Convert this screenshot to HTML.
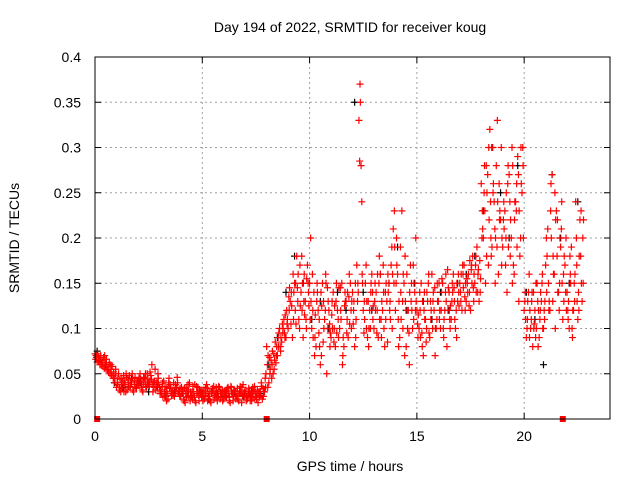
<!DOCTYPE html>
<html><head><meta charset="utf-8"><style>
body{margin:0;background:#fff;}
svg{display:block;font-family:"Liberation Sans",sans-serif;}
</style></head><body>
<svg id="chart" width="640" height="480" viewBox="0 0 640 480">
<rect width="640" height="480" fill="#fff"/>
<text x="350" y="32" font-size="14" text-anchor="middle">Day 194 of 2022, SRMTID for receiver koug</text>
<text transform="translate(19,238) rotate(-90)" font-size="14" text-anchor="middle">SRMTID / TECUs</text>
<text x="350" y="471" font-size="14" text-anchor="middle">GPS time / hours</text>
<g id="grid"></g><g id="ticks"></g><g id="marks"></g>
<rect x="95" y="57" width="515" height="362" fill="none" stroke="#000" stroke-width="1"/>
</svg>
<script>
const xTicks=[0,5,10,15,20];
const yTicks=[0,0.05,0.1,0.15,0.2,0.25,0.3,0.35,0.4];
const yTickLabels=["0","0.05","0.1","0.15","0.2","0.25","0.3","0.35","0.4"];
const redA=[.070,.068,.065,.062,.070,.058,.060,.055,.045,.050,
.040,.035,.045,.030,.050,.040,.035,.045,.038,.042,
.045,.035,.040,.050,.038,.042,.060,.035,.040,.045,
.030,.040,.025,.035,.045,.030,.028,.038,.040,.025,
.030,.020,.035,.025,.030,.022,.038,.028,.020,.032,
.025,.035,.020,.030,.028,.022,.035,.025,.030,.020,
.028,.032,.020,.035,.025,.030,.022,.028,.035,.025,
.020,.030,.025,.035,.022,.028,.030,.040,.025,.035,
.035,.050,.060,.055,.070,.080,.075,.095,.090,.105,
.120,.140,.110,.150,.130,.170,.120,.160,.100,.140,
.200,.120,.090,.150,.110,.070,.130,.160,.100,.080,
.130,.100,.150,.090,.120,.070,.140,.110,.160,.100,
.120,.090,.150,.370,.160,.130,.100,.080,.140,.110,
.150,.120,.180,.090,.140,.110,.160,.130,.100,.230,
.200,.080,.140,.100,.180,.120,.060,.150,.110,.200,
.090,.120,.080,.140,.100,.160,.110,.130,.070,.150,
.110,.140,.090,.160,.120,.100,.150,.130,.090,.140,
.130,.160,.120,.150,.140,.170,.130,.180,.160,.140,
.230,.280,.180,.300,.200,.250,.150,.330,.220,.170,
.240,.200,.280,.180,.150,.220,.260,.130,.300,.280,
.140,.110,.090,.130,.100,.150,.080,.120,.160,.110,
.140,.120,.260,.180,.100,.220,.150,.240,.130,.200,
.110,.160,.090,.130,.170,.120,.230,.150];
const redB=[.072,.063,.066,.060,.068,.062,.055,.050,.058,.045,
.035,.050,.030,.042,.038,.032,.048,.040,.030,.035,
.040,.050,.032,.045,.035,.040,.048,.030,.055,.040,
.035,.028,.042,.030,.022,.038,.032,.025,.035,.030,
.025,.032,.018,.030,.040,.025,.030,.018,.035,.028,
.030,.022,.038,.025,.018,.032,.028,.020,.035,.028,
.022,.030,.035,.018,.028,.032,.025,.020,.030,.038,
.028,.022,.030,.020,.032,.025,.018,.030,.022,.030,
.080,.040,.065,.050,.085,.070,.100,.085,.110,.090,
.100,.130,.090,.150,.180,.110,.140,.090,.130,.170,
.150,.100,.140,.080,.120,.060,.150,.110,.050,.120,
.090,.140,.080,.120,.100,.150,.080,.130,.090,.150,
.140,.080,.170,.330,.280,.120,.150,.090,.120,.160,
.100,.140,.090,.160,.120,.080,.130,.150,.170,.210,
.120,.160,.090,.230,.150,.080,.120,.170,.100,.140,
.120,.100,.150,.070,.110,.130,.090,.160,.120,.100,
.130,.100,.150,.120,.080,.140,.110,.160,.100,.130,
.150,.120,.170,.130,.160,.120,.180,.150,.190,.130,
.260,.200,.150,.270,.320,.190,.240,.280,.160,.220,
.190,.230,.140,.270,.200,.170,.240,.290,.180,.250,
.120,.090,.140,.100,.080,.120,.150,.090,.130,.100,
.170,.210,.120,.270,.160,.230,.140,.190,.110,.170,
.140,.100,.190,.120,.240,.110,.220,.130];
const redC=[.066,.072,.060,.064,.056,.066,.052,.060,.048,.040,
.045,.032,.038,.048,.030,.044,.036,.050,.042,.034,
.038,.044,.030,.042,.050,.036,.044,.040,.032,.050,
.028,.036,.030,.020,.040,.034,.026,.032,.046,.030,
.035,.022,.028,.038,.020,.030,.024,.036,.026,.030,
.020,.028,.034,.022,.030,.036,.024,.030,.022,.032,
.030,.024,.028,.036,.020,.026,.034,.030,.018,.028,
.032,.026,.020,.028,.036,.022,.030,.026,.034,.045,
.060,.068,.045,.072,.062,.090,.080,.105,.095,.120,
.135,.105,.160,.120,.145,.100,.180,.130,.110,.150,
.110,.160,.070,.130,.095,.140,.085,.120,.145,.105,
.115,.085,.130,.110,.145,.060,.125,.095,.135,.120,
.105,.150,.130,.285,.240,.095,.170,.130,.100,.140,
.130,.095,.150,.110,.170,.140,.085,.120,.190,.150,
.150,.110,.190,.130,.070,.160,.095,.130,.170,.120,
.105,.140,.095,.120,.085,.150,.130,.100,.145,.110,
.150,.120,.100,.140,.165,.110,.130,.145,.120,.160,
.140,.170,.135,.155,.125,.165,.145,.170,.140,.175,
.200,.250,.280,.170,.240,.300,.210,.190,.260,.300,
.220,.170,.260,.240,.300,.160,.230,.270,.200,.300,
.130,.100,.160,.110,.140,.090,.130,.110,.150,.120,
.200,.150,.230,.130,.250,.180,.120,.210,.160,.140,
.120,.180,.100,.150,.200,.140,.180,.200];
const redD=[.068,.064,.070,.058,.062,.054,.062,.048,.052,.055,
.038,.044,.034,.040,.046,.036,.042,.032,.046,.038,
.042,.038,.046,.036,.044,.052,.038,.042,.036,.038,
.032,.024,.036,.028,.034,.026,.040,.030,.028,.034,
.028,.034,.024,.032,.026,.036,.020,.030,.032,.024,
.032,.026,.030,.020,.034,.026,.030,.036,.024,.030,
.026,.034,.024,.030,.032,.022,.028,.036,.026,.030,
.024,.034,.028,.024,.030,.032,.024,.036,.030,.050,
.070,.055,.075,.065,.080,.095,.090,.100,.115,.110,
.145,.125,.140,.105,.160,.125,.150,.115,.155,.125,
.130,.090,.115,.140,.080,.125,.100,.150,.130,.095,
.100,.125,.095,.145,.110,.090,.130,.140,.105,.130,
.130,.110,.140,.350,.150,.110,.130,.100,.150,.125,
.120,.160,.110,.130,.100,.150,.140,.110,.160,.190,
.170,.130,.110,.160,.130,.100,.140,.120,.150,.130,
.115,.090,.130,.110,.140,.095,.120,.140,.100,.130,
.120,.155,.110,.130,.145,.125,.140,.110,.150,.125,
.160,.145,.150,.140,.175,.150,.160,.140,.165,.155,
.210,.230,.250,.220,.180,.260,.200,.240,.230,.200,
.210,.250,.190,.220,.280,.240,.190,.230,.260,.200,
.110,.130,.120,.140,.105,.100,.120,.140,.100,.130,
.180,.130,.200,.160,.220,.140,.200,.150,.180,.120,
.130,.150,.120,.160,.130,.180,.150,.220];
const black=[.075,.060,.040,.035,.045,.040,.030,.035,.025,.030,.028,.025,.030,.022,.028,.025,.030,.025,.030,.028,.060,.090,.140,.180,.150,.110,.130,.100,.140,.120,.350,.140,.120,.160,.150,.190,.120,.150,.130,.110,.140,.120,.150,.160,.180,.230,.300,.250,.200,.280,.140,.110,.060,.270,.200,.150,.240];
const gapTimes=[0.1,8.0,21.8];
const NS="http://www.w3.org/2000/svg";
const X0=95,X1=610,Y0=419,Y1=57,XMAX=24,YMAX=0.4;
function xs(t){return X0+(X1-X0)*t/XMAX;}
function ys(v){return Y0-(Y0-Y1)*v/YMAX;}
function mk(tag,attrs,parent){const e=document.createElementNS(NS,tag);for(const k in attrs)e.setAttribute(k,attrs[k]);parent.appendChild(e);return e;}
const grid=document.getElementById('grid'),ticks=document.getElementById('ticks'),marks=document.getElementById('marks');
xTicks.forEach(t=>{const x=xs(t);
 if(t>0){const g=mk('line',{x1:x,y1:Y0,x2:x,y2:Y1,stroke:'#a0a0a0','stroke-dasharray':'2,3'},grid);
 
 }
 mk('line',{x1:x,y1:Y0,x2:x,y2:Y0-6,stroke:'#000'},ticks);
 mk('line',{x1:x,y1:Y1,x2:x,y2:Y1+6,stroke:'#000'},ticks);
 const l=mk('text',{x:x,y:Y0+22,'font-size':14,'text-anchor':'middle'},ticks);l.textContent=t;
 
 });
yTicks.forEach((v,i)=>{const y=ys(v);
 if(v>0&&v<YMAX){const g=mk('line',{x1:X0,y1:y,x2:X1,y2:y,stroke:'#a0a0a0','stroke-dasharray':'2,3'},grid);
 
 }
 mk('line',{x1:X0,y1:y,x2:X0+6,y2:y,stroke:'#000'},ticks);
 mk('line',{x1:X1,y1:y,x2:X1-6,y2:y,stroke:'#000'},ticks);
 const l=mk('text',{x:X0-14,y:y+5,'font-size':14,'text-anchor':'end'},ticks);l.textContent=yTickLabels[i];
 
 });
function plus(t,v,c,name){const x=xs(t),y=ys(v);
 const p=mk('path',{d:`M${x-3.5},${y}h7M${x},${y-3.5}v7`,stroke:c,'stroke-width':1.2,fill:'none'},marks);
 
 }
black.forEach((v,i)=>plus(0.1+0.4*i,v,'#000','black-point'));
redA.forEach((v,i)=>plus(0.05+0.1*i,v,'#f00','red-point'));
redB.forEach((v,i)=>plus(0.1*i,v,'#f00','red-point'));
redC.forEach((v,i)=>plus(0.033+0.1*i,v,'#f00','red-point'));
redD.forEach((v,i)=>plus(0.066+0.1*i,v,'#f00','red-point'));
gapTimes.forEach(t=>{const r=mk('rect',{x:xs(t)-3,y:Y0-3,width:6,height:6,fill:'#f00'},marks);
 
 });
</script>
</body></html>
